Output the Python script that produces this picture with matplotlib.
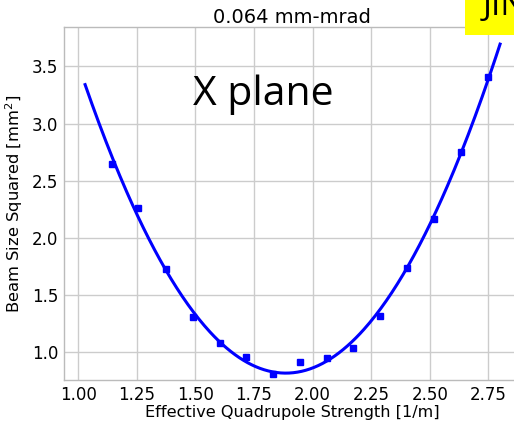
import numpy as np
import matplotlib
matplotlib.use("Agg")
import matplotlib.pyplot as plt
from matplotlib.patches import Rectangle

# Data
k_vals = [1.144, 1.257, 1.375, 1.489, 1.606, 1.715, 1.830, 1.947,
          2.060, 2.174, 2.288, 2.404, 2.518, 2.632, 2.748]
beam_sq = [2.646, 2.258, 1.727, 1.309, 1.081, 0.959, 0.807, 0.910,
           0.945, 1.038, 1.315, 1.738, 2.162, 2.754, 3.411]
fit_range = [1.03, 2.80]
title_text = "0.064 mm-mrad"
plane_label = "X plane"
xticks = [1.00, 1.25, 1.50, 1.75, 2.00, 2.25, 2.50, 2.75]
yticks = [1.0, 1.5, 2.0, 2.5, 3.0, 3.5]

W, H = 514, 429
fig = plt.figure(figsize=(W / 100, H / 100), dpi=100)
ax = fig.add_axes([64 / W, (H - 380) / H, (520 - 64) / W, (380 - 27.3) / H])

# quadratic fit of the measured points
coef = np.polyfit(k_vals, beam_sq, 2)
kk = np.linspace(fit_range[0], fit_range[1], 300)
ax.plot(kk, np.polyval(coef, kk), color="#0000ff", lw=2.2, zorder=3)
ax.plot(k_vals, beam_sq, "s", color="#0000ff", ms=4.5, zorder=4)

ax.set_xlim(0.940, 2.885)
ax.set_ylim(0.755, 3.843)
ax.set_xticks(xticks)
ax.set_yticks(yticks)
ax.tick_params(labelsize=12, length=0, pad=4)
ax.grid(True, color="#cccccc", lw=1.0)
ax.set_axisbelow(True)
for s in ax.spines.values():
    s.set_color("#bbbbbb")
    s.set_linewidth(1.0)

ax.set_xlabel("Effective Quadrupole Strength [1/m]", fontsize=11.6, labelpad=1)
ax.set_ylabel("Beam Size Squared [mm$^2$]", fontsize=11.8, labelpad=5)
ax.set_title(title_text, fontsize=14, pad=3)

ax.text(1.49, 3.16, plane_label, fontsize=29.5, family=["Open Sans", "DejaVu Sans"],
        ha="left", va="baseline", zorder=5)

fig.patches.append(Rectangle((465 / W, (H - 35) / H), 60 / W, 40 / H,
                             transform=fig.transFigure, facecolor="#ffff00",
                             edgecolor="none", zorder=1))
fig.text(483 / W, (H - 15) / H, "JINR", fontsize=24, family=["Open Sans", "DejaVu Sans"],
         ha="left", va="baseline", zorder=2)

fig.savefig("out.png", dpi=100)
